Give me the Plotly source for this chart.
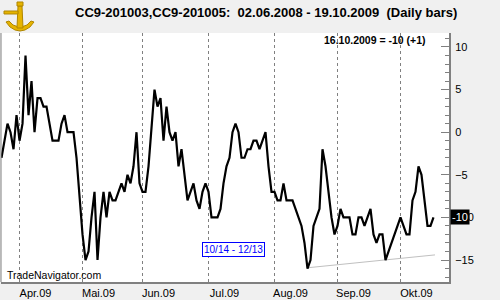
import plotly.graph_objects as go
import pandas as pd

# ---------------- data ----------------
holidays = ["2009-04-10", "2009-05-25", "2009-07-03", "2009-09-07"]
dates = pd.bdate_range("2009-03-24", "2009-10-16", freq="C", holidays=holidays)

spread = [
    -3, -1, 1, 0, -2, 2, -1, 1, 9, 2,
    6, 0, 4, 4, 3, 3, 1, -1, -1, -1,
    1, 2, 0, 0, 0, -3, -8, -12, -15, -14,
    -10, -7, -15, -10, -7, -10, -7, -8, -8, -7,
    -6, -7, -5, -6, -4, 0, -6, -7, -7, -4,
    0, 5, 3, 4, -1, 3, 0, -1, 0, -4,
    -2, -5, -8, -7, -6, -8, -9, -7, -6, -7,
    -10, -10, -10, -9, -6, -4, -3, 0, 1, 0,
    -3, -3, -2, -2, -1, -1, -2, -1, 0, -4,
    -7, -7, -8, -8, -6, -8, -8, -8, -9, -10,
    -11, -13, -16, -15, -11, -10, -9, -2, -4, -7,
    -10, -12, -11, -9, -10, -10, -10, -12, -12, -10,
    -10, -11, -10, -9, -12, -13, -12, -12, -15, -14,
    -13, -12, -11, -10, -11, -12, -12, -8, -7, -4,
    -5, -8, -11, -11, -10,
]
month_labels = ["Apr.09", "Mai.09", "Jun.09", "Jul.09", "Aug.09", "Sep.09", "Okt.09"]
y_ticks = [-15, -10, -5, 0, 5, 10]
trend_x = [102.3, 144.5]
trend_y = [-15.9, -14.4]

title_text = "CC9-201003,CC9-201005:  02.06.2008 - 19.10.2009  (Daily bars)"
last_text = "16.10.2009 = -10 (+1)"
box_text = "10/14 - 12/13"
last_value = spread[-1]

# ---------------- layout helpers ----------------
W, H = 500, 300
L, R, T, B = 1, 51, 33, 18

def px2x(px):
    return (px - L) / (W - L - R)

def py2y(py):
    return (H - B - py) / (H - T - B)

def ppath(points, close=True):
    s = "M " + " L ".join("%.5f,%.5f" % (px2x(a), py2y(b)) for a, b in points)
    return s + (" Z" if close else "")

x_idx = list(range(len(dates)))
tick_idx = [i for i in range(1, len(dates)) if dates[i].month != dates[i - 1].month]

GRAY = "#808080"
GOLD = "#e6b400"
GOLD_DK = "#b08600"
FONT = "Liberation Sans, Arial, sans-serif"

fig = go.Figure()
fig.add_trace(go.Scatter(
    x=trend_x, y=trend_y, mode="lines",
    line=dict(color="#c0c0c0", width=1), hoverinfo="skip", showlegend=False,
))
fig.add_trace(go.Scatter(
    x=x_idx, y=spread, mode="lines",
    line=dict(color="black", width=2.2), showlegend=False,
))

# simple sextant-like logo (decorative)
logo = [
    dict(type="path", xref="paper", yref="paper",
         path=ppath([(6, 22), (10, 27), (15, 30), (20, 31), (25, 30), (30, 27), (34, 22),
                     (31, 21), (27, 25), (20, 27.5), (13, 25), (9, 21)]),
         fillcolor=GOLD, line=dict(color=GOLD_DK, width=1)),
    dict(type="path", xref="paper", yref="paper",
         path=ppath([(18, 6), (22, 6), (23, 28), (17, 28)]),
         fillcolor=GOLD, line=dict(color=GOLD_DK, width=1)),
    dict(type="path", xref="paper", yref="paper",
         path=ppath([(4, 11), (18, 11), (18, 14), (4, 14)]),
         fillcolor=GOLD, line=dict(color=GOLD_DK, width=1)),
    dict(type="path", xref="paper", yref="paper",
         path=ppath([(17, 2), (23, 2), (23, 6), (17, 6)]),
         fillcolor=GOLD, line=dict(color=GOLD_DK, width=1)),
]

fig.update_layout(
    width=W, height=H,
    margin=dict(l=L, r=R, t=T, b=B, pad=0),
    paper_bgcolor="#f0f0f0", plot_bgcolor="white",
    font=dict(family=FONT, size=11, color="black"),
    xaxis=dict(
        range=[-0.17, 149.17], tickmode="array", tickvals=tick_idx, ticktext=month_labels,
        ticks="", showgrid=True, gridcolor=GRAY, gridwidth=1, griddash="3px,3px",
        showline=True, linecolor=GRAY, linewidth=2, zeroline=False,
        ticklabelshift=16, tickfont=dict(size=11),
    ),
    yaxis=dict(
        side="right", range=[-17.58, 11.64], tickmode="array", tickvals=y_ticks,
        ticks="inside", ticklen=8, tickcolor=GRAY, tickwidth=1,
        showline=True, linecolor=GRAY, linewidth=2,
        showgrid=False, zeroline=False, tickfont=dict(size=11),
        ticklabelstandoff=2,
        minor=dict(ticks="inside", ticklen=4, tickcolor=GRAY, dtick=1, tick0=0, showgrid=False),
    ),
    shapes=[
        dict(type="line", xref="paper", yref="paper", x0=0, x1=0, y0=0, y1=1,
             line=dict(color=GRAY, width=1)),
    ] + logo,
    annotations=[
        dict(text="<b>%s</b>" % title_text, xref="paper", yref="paper",
             x=px2x(73), y=py2y(13), xanchor="left", yanchor="middle",
             showarrow=False, font=dict(size=13, color="black")),
        dict(text="<b>%s</b>" % last_text, xref="paper", yref="paper",
             x=px2x(322), y=py2y(40), xanchor="left", yanchor="middle",
             showarrow=False, font=dict(size=10.5, color="black")),
        dict(text=box_text, xref="paper", yref="paper",
             x=px2x(233), y=py2y(249.7), xanchor="center", yanchor="middle",
             showarrow=False, font=dict(size=10, color="#0000ff"),
             bgcolor="white", bordercolor="#0000ff", borderwidth=1, borderpad=1),
        dict(text="TradeNavigator.com", xref="paper", yref="paper",
             x=px2x(5), y=py2y(275), xanchor="left", yanchor="middle",
             showarrow=False, font=dict(size=10.5, color="black")),
        dict(text=str(last_value), xref="paper", yref="y",
             x=px2x(450), y=last_value, xanchor="left", yanchor="middle",
             showarrow=False, font=dict(size=11, color="white"),
             bgcolor="black", borderpad=1),
    ],
)

fig.write_html("out.html")
